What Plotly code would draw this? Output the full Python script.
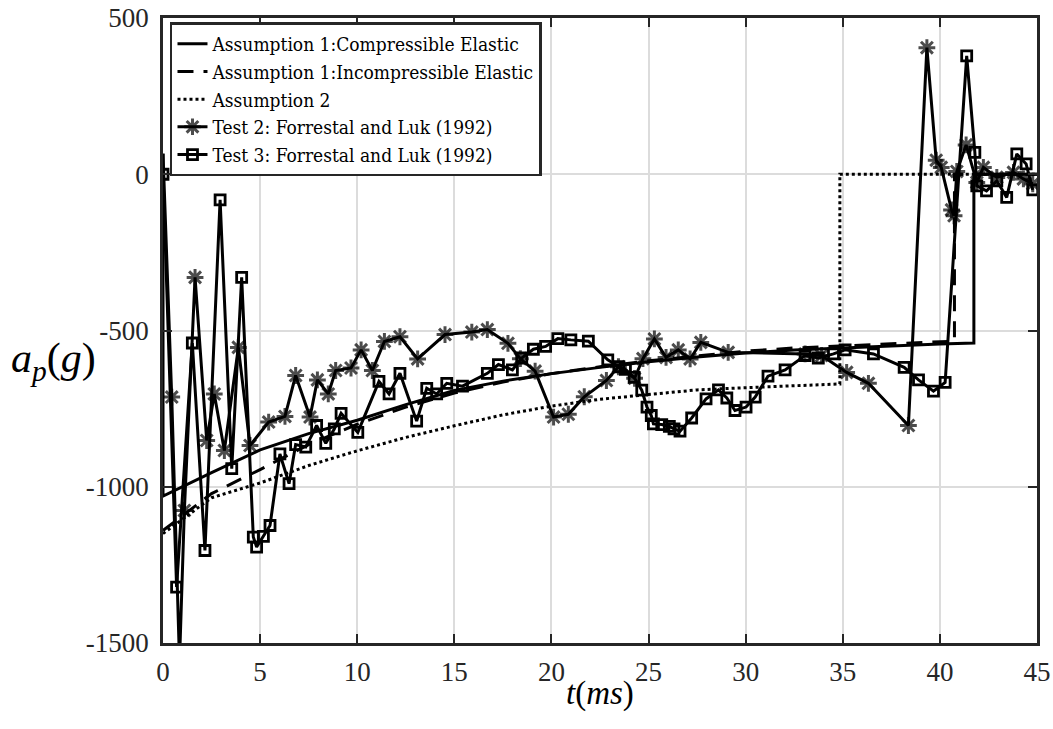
import plotly.graph_objects as go

# ---------------- data ----------------
t_comp = [0, 0, 2.5, 5, 7.5, 10, 12.5, 15, 17.5, 20, 22.5, 25, 27.5, 30, 32.5, 35, 37.5, 40, 41.75, 41.75, 45]
a_comp = [66, -1030, -955, -882, -830, -787, -737, -692, -662, -638, -618, -600, -585, -572, -562, -555, -549, -543, -540, 0, 0]

t_incomp = [0, 2.5, 5, 7.5, 10, 12.5, 15, 17.5, 20, 22.5, 25, 27.5, 30, 32.5, 35, 37.5, 40, 40.75, 40.75, 45]
a_incomp = [-1140, -1022, -945, -865, -800, -745, -700, -665, -638, -616, -597, -582, -566, -556, -549, -542, -536, -534, 0, 0]

t_as2 = [0, 2.5, 5, 7.5, 10, 12.5, 15, 17.5, 20, 22.5, 25, 27.5, 30, 32.5, 34.85, 34.85, 45]
a_as2 = [-1150, -1035, -988, -932, -885, -842, -805, -770, -742, -720, -705, -690, -683, -677, -671, 0, 0]

t_test2 = [0, 0.45, 0.85, 1.10, 1.65, 2.25, 2.64, 3.16, 3.88, 4.48, 5.44, 6.28, 6.83, 7.57, 7.95,
           8.51, 8.89, 9.68, 10.20, 10.78, 11.40, 12.20, 13.11, 14.52, 15.90, 16.70, 17.76, 18.40,
           19.16, 20.11, 20.87, 21.69, 22.83, 23.45, 24.28, 24.71, 25.30, 25.90, 26.53, 27.14,
           27.69, 29.10, 33.06, 33.91, 35.20, 36.32, 38.38, 39.33, 39.81, 40.07, 40.60, 40.73,
           40.87, 41.35, 41.90, 42.24, 42.93, 43.79, 44.30, 44.78]
a_test2 = [66, -713, -1560, -1076, -330, -852, -703, -884, -554, -868, -793, -775, -644, -777, -658,
           -703, -628, -620, -562, -628, -535, -520, -591, -513, -505, -497, -541, -590,
           -630, -777, -768, -712, -660, -616, -653, -590, -527, -586, -562, -591,
           -538, -570, -575, -580, -634, -669, -804, 405, 45, 22, -114, -133,
           9, 94, -26, 22, -10, 6, -15, -31]

t_test3 = [0, 0.70, 1.51, 2.16, 2.94, 3.54, 4.05, 4.65, 4.82, 5.17, 5.51, 6.02, 6.49, 6.83, 7.35,
           7.91, 8.38, 8.82, 9.17, 10.03, 11.12, 11.64, 12.20, 13.06, 13.58, 14.09, 14.61, 15.42,
           16.70, 17.27, 17.99, 18.47, 19.07, 19.70, 20.33, 21.00, 21.90, 22.90, 23.47, 23.81,
           24.26, 24.65, 24.92, 25.14, 25.25, 25.68, 26.07, 26.31, 26.62, 27.22, 27.96, 28.60,
           29.03, 29.45, 30.02, 30.49, 31.15, 32.03, 33.06, 33.74, 34.52, 35.12, 36.58, 38.16,
           38.90, 39.67, 40.27, 41.38, 41.80, 41.90, 42.40, 42.93, 43.44, 43.96, 44.44, 44.78]
a_test3 = [0, -1321, -540, -1204, -82, -942, -330, -1161, -1193, -1159, -1124, -895, -990, -865, -873,
           -804, -861, -815, -765, -826, -663, -703, -637, -790, -685, -703, -669, -678,
           -637, -609, -626, -588, -560, -551, -526, -530, -534, -594, -616, -624,
           -650, -691, -745, -772, -799, -801, -807, -815, -822, -780, -719, -690,
           -716, -756, -745, -713, -646, -626, -580, -588, -575, -562, -575, -618,
           -658, -694, -666, 379, 70, -37, -53, -21, -74, 65, 33, -50]

names = ["Assumption 1:Compressible Elastic",
         "Assumption 1:Incompressible Elastic",
         "Assumption 2",
         "Test 2: Forrestal and Luk (1992)",
         "Test 3: Forrestal and Luk (1992)"]

x_ticks = [0, 5, 10, 15, 20, 25, 30, 35, 40, 45]
x_ticklabels = ["0", "5", "10", "15", "20", "25", "30", "35", "40", "45"]
y_ticks = [-1500, -1000, -500, 0, 500]
y_ticklabels = ["-1500", "-1000", "-500", "0", "500"]

# ---------------- figure ----------------
INK = "#000000"
AX = "#262626"
SERIF = "Liberation Serif"
LEG_FONT = "DejaVu Serif Condensed, DejaVu Serif"
LW = 3

fig = go.Figure()
fig.add_trace(go.Scatter(x=t_comp, y=a_comp, mode="lines", name=names[0],
                         line=dict(color=INK, width=LW)))
fig.add_trace(go.Scatter(x=t_incomp, y=a_incomp, mode="lines", name=names[1],
                         line=dict(color=INK, width=LW, dash="16px,10px")))
fig.add_trace(go.Scatter(x=t_as2, y=a_as2, mode="lines", name=names[2],
                         line=dict(color=INK, width=LW, dash="3px,3px")))
sizes2 = [0] + [14] * (len(t_test2) - 1)
fig.add_trace(go.Scatter(x=t_test2, y=a_test2, mode="lines+markers", name=names[3],
                         line=dict(color=INK, width=LW),
                         marker=dict(symbol="asterisk-open", size=sizes2, color=INK,
                                     line=dict(color=INK, width=3))))
fig.add_trace(go.Scatter(x=t_test3, y=a_test3, mode="lines+markers", name=names[4],
                         line=dict(color=INK, width=LW),
                         marker=dict(symbol="square-open", size=10, color=INK,
                                     line=dict(color=INK, width=2.8))))

axis_common = dict(showgrid=True, gridcolor="#dcdcdc", gridwidth=2,
                   showline=True, linecolor=AX, linewidth=2.5, mirror="ticks",
                   ticks="inside", ticklen=9, tickwidth=2, tickcolor=AX,
                   zeroline=False, automargin=False,
                   tickfont=dict(family=SERIF, size=27, color=AX))

fig.update_xaxes(range=[0, 45], tickmode="array", tickvals=x_ticks, ticktext=x_ticklabels,
                 ticklabelstandoff=3, **axis_common)
fig.update_yaxes(range=[-1500, 500], tickmode="array", tickvals=y_ticks, ticktext=y_ticklabels,
                 ticklabelstandoff=6, **axis_common)

fig.update_layout(
    width=1053, height=729,
    margin=dict(l=163, r=16, t=18, b=86, autoexpand=False),
    paper_bgcolor="white", plot_bgcolor="white",
    showlegend=True,
    legend=dict(x=0.008, y=0.993, xanchor="left", yanchor="top",
                bgcolor="white", bordercolor=AX, borderwidth=2.5,
                font=dict(family=LEG_FONT, size=19, color=INK),
                tracegroupgap=0, itemwidth=30),
    annotations=[
        dict(text="<i>a</i><sub><i>p</i></sub>(<i>g</i>)", xref="paper", yref="paper",
             x=-0.176, y=0.452, xanchor="left", yanchor="middle", showarrow=False,
             font=dict(family=SERIF, size=42, color=INK)),
        dict(text="<i>t</i>(<i>ms</i>)", xref="paper", yref="paper",
             x=0.5, y=-0.08, xanchor="center", yanchor="middle", showarrow=False,
             font=dict(family=SERIF, size=33, color=INK)),
    ],
)

fig.write_html("out.html")
